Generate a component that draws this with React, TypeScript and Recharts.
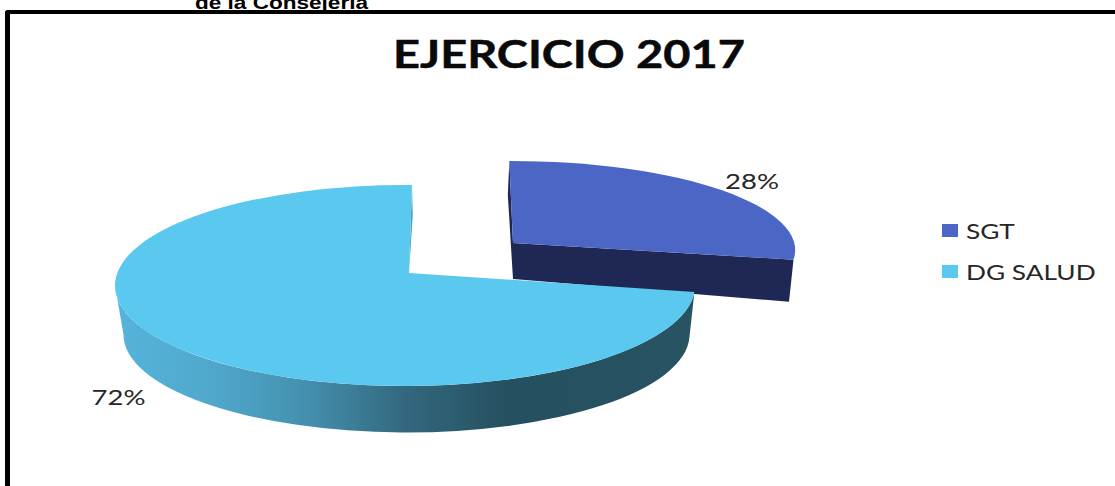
import React from "react";
import { PieChart, Pie, Cell, Legend } from "recharts";

const categories = ["SGT", "DG SALUD"];
const shares = [28, 72];
const topColors = ["#4C66C6", "#5BC8EF"];
const sideColors = ["#1F2855", "url(#wallGradient)"];

const WIDTH = 1115;
const HEIGHT = 486;
const TILT = 100.5 / 290;

const pieData = categories.map((name, i) => ({ name, value: shares[i] }));

// where each slice sits relative to the pie centre (perspective fudge from the picture)
const sliceLook = [
  { shiftX: 106, shiftY: -35.5, scale: 0.98, tilt: 89 / 284, apexX: 2, apexY: -7, lean: -4, depth: 36 },
  { shiftX: 0, shiftY: 0, scale: 1, tilt: TILT, apexX: 4, apexY: -12.5, lean: 3.4, depth: 49 },
];

const RAD = Math.PI / 180;

// ray from the apex to the ellipse rim, in the direction of a polar angle
function rimPoint(angle: number, rx: number, ry: number, ax: number, ay: number, lean: number) {
  const dx = rx * Math.cos(angle * RAD) + lean * Math.sin(angle * RAD);
  const dy = -ry * Math.sin(angle * RAD);
  const a = (dx * dx) / (rx * rx) + (dy * dy) / (ry * ry);
  const b = (2 * ax * dx) / (rx * rx) + (2 * ay * dy) / (ry * ry);
  const c = (ax * ax) / (rx * rx) + (ay * ay) / (ry * ry) - 1;
  const t = (-b + Math.sqrt(b * b - 4 * a * c)) / (2 * a);
  return { x: ax + dx * t, y: ay + dy * t };
}

const Slice3D = (props: any) => {
  const { cx, cy, outerRadius, startAngle, endAngle, index } = props;
  const look = sliceLook[index];
  const ox = cx + look.shiftX;
  const oy = cy + look.shiftY;
  const rx = outerRadius * look.scale;
  const ry = rx * look.tilt;
  const start = rimPoint(startAngle, rx, ry, look.apexX, look.apexY, look.lean);
  const end = rimPoint(endAngle, rx, ry, look.apexX, look.apexY, look.lean);
  const large = Math.abs(endAngle - startAngle) > 180 ? 1 : 0;
  const apexPtX = ox + look.apexX;
  const apexPtY = oy + look.apexY;
  const apex = `${apexPtX} ${apexPtY}`;
  const startPt = `${ox + start.x} ${oy + start.y}`;
  const endPt = `${ox + end.x} ${oy + end.y}`;
  const top = `M${apex} L${startPt} A${rx} ${ry} 0 ${large} 1 ${endPt} Z`;

  if (index === 0) {
    return (
      <g>
        {/* thin sliver of the back cut */}
        <path
          d={`M${startPt} L${ox + start.x - 1.5} ${oy + start.y + 34} L${apexPtX} ${apexPtY + look.depth} L${apex} Z`}
          fill={sideColors[0]}
        />
        {/* front cut face */}
        <path
          d={`M${apex} L${endPt} L${ox + end.x - 4.5} ${oy + end.y + 42} L${apexPtX} ${apexPtY + look.depth} Z`}
          fill={sideColors[0]}
        />
        <path d={top} fill={topColors[0]} />
      </g>
    );
  }

  // outer wall of the big slice, only the front half can be seen
  const lowRx = rx * 0.976;
  const lowRy = ry * 0.975;
  const lowCx = ox + 1.5;
  const lowCy = oy + look.depth;
  const lowStart = rimPoint(startAngle, lowRx, lowRy, look.apexX, look.apexY - 3, look.lean);
  const wall =
    `M${startPt} A${rx} ${ry} 0 0 1 ${ox - rx} ${oy} L${lowCx - lowRx} ${lowCy} ` +
    `A${lowRx} ${lowRy} 0 0 0 ${lowCx + lowStart.x} ${lowCy + lowStart.y} Z`;
  return (
    <g>
      <path d={wall} fill={sideColors[1]} />
      <path
        d={`M${endPt} L${ox + end.x + 0.8} ${oy + end.y + 30} L${apex} Z`}
        fill="#4AA3C6"
      />
      <path d={top} fill={topColors[1]} />
    </g>
  );
};

// percent labels sit a bit off the rim, the low one also clears the wall
const labelOffset = [
  { x: 22, y: -13 },
  { x: -63, y: 47 },
];

const renderLabel = (props: any) => {
  const { cx, cy, midAngle, outerRadius, index, percent } = props;
  const look = sliceLook[index];
  const rx = outerRadius * look.scale;
  const ry = rx * look.tilt;
  const px = cx + look.shiftX + rx * Math.cos(midAngle * RAD) + labelOffset[index].x;
  const py = cy + look.shiftY - ry * Math.sin(midAngle * RAD) + labelOffset[index].y;
  return (
    <text
      x={px}
      y={py}
      textAnchor="middle"
      dominantBaseline="central"
      fontFamily="Lato"
      fontSize={21}
      fill="#262626"
      textLength={54}
      lengthAdjust="spacingAndGlyphs"
    >
      {Math.round(percent * 100)}%
    </text>
  );
};

const renderLegend = () => (
  <div>
    {categories.map((name, i) => (
      <div key={name} style={{ height: 41, display: "flex", alignItems: "center" }}>
        <span style={{ width: 16, height: 13, background: topColors[i], marginRight: 8, flexShrink: 0 }} />
        <span
          style={{
            fontFamily: "Lato",
            fontSize: 21,
            color: "#262626",
            whiteSpace: "nowrap",
            display: "inline-block",
            transform: "scaleX(1.25)",
            transformOrigin: "left center",
          }}
        >
          {name}
        </span>
      </div>
    ))}
  </div>
);

export default function App() {
  return (
    <div style={{ position: "absolute", left: 0, top: 0, width: WIDTH, height: HEIGHT, overflow: "hidden", background: "#fff" }}>
      <PieChart width={WIDTH} height={HEIGHT} margin={{ top: 0, right: 0, bottom: 0, left: 0 }}>
        <defs>
          <linearGradient id="wallGradient" x1="0" y1="0" x2="1" y2="0">
            <stop offset="0%" stopColor="#55B4DB" />
            <stop offset="17%" stopColor="#4FA8CC" />
            <stop offset="33%" stopColor="#4490AE" />
            <stop offset="50%" stopColor="#33687F" />
            <stop offset="68%" stopColor="#25505F" />
            <stop offset="100%" stopColor="#275362" />
          </linearGradient>
        </defs>
        <text x={195} y={8.5} fontFamily="Liberation Sans" fontWeight="bold" fontSize={19} textLength={173} lengthAdjust="spacingAndGlyphs" fill="#000">
          de la Consejería
        </text>
        <text x={393} y={68} fontFamily="Lato" fontWeight="bold" fontSize={39} textLength={352} lengthAdjust="spacingAndGlyphs" fill="#0A0A0A" stroke="#0A0A0A" strokeWidth={0.5}>
          EJERCICIO 2017
        </text>
        <Legend
          content={renderLegend}
          layout="vertical"
          wrapperStyle={{ position: "absolute", left: 942, top: 210, width: 170 }}
        />
        <Pie
          data={pieData}
          dataKey="value"
          nameKey="name"
          cx={405}
          cy={285.5}
          outerRadius={290}
          startAngle={90}
          endAngle={-270}
          stroke="none"
          isAnimationActive={false}
          shape={Slice3D}
          label={renderLabel}
          labelLine={false}
        >
          {pieData.map((d, i) => (
            <Cell key={d.name} fill={topColors[i]} />
          ))}
        </Pie>
      </PieChart>
      <div
        style={{
          position: "absolute",
          left: 5,
          top: 10,
          width: WIDTH,
          height: HEIGHT,
          borderTop: "4px solid #000",
          borderLeft: "5px solid #000",
          borderTopLeftRadius: 3,
          pointerEvents: "none",
        }}
      />
    </div>
  );
}
